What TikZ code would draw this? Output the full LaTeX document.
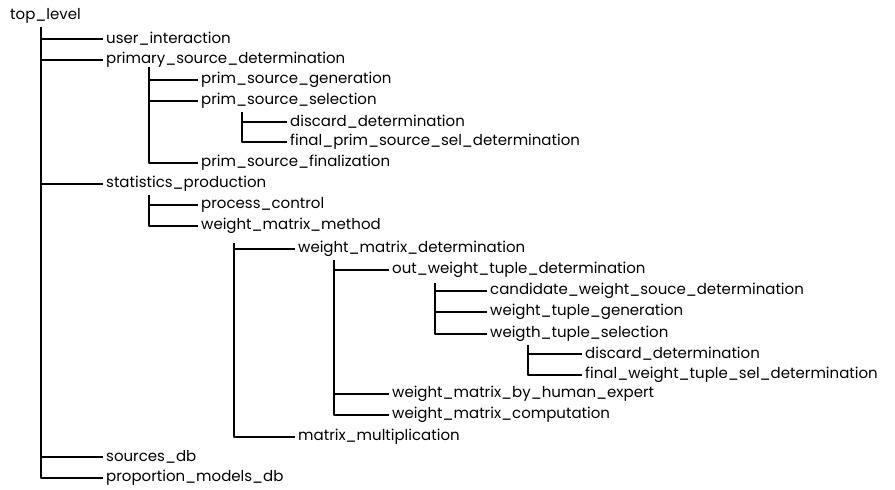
\documentclass[tikz,border=0pt]{standalone}
\usepackage{fontspec}
\setmainfont{Poppins}
\begin{document}
\begin{tikzpicture}[x=1pt,y=-1pt,line join=round,
    lbl/.style={anchor=west,inner xsep=3pt,inner ysep=1pt,font=\fontsize{15}{17}\selectfont},
    tree/.style={line width=1.5pt}]
  \useasboundingbox (0,0) rectangle (895,490);
  % modules
  \node[lbl] (top)   at (7,16)    {top\_level};
  \node[lbl] (ui)    at (103,39)  {user\_interaction};
  \node[lbl] (psd)   at (103,60)  {primary\_source\_determination};
  \node[lbl] (psg)   at (198,80)  {prim\_source\_generation};
  \node[lbl] (pss)   at (198,101) {prim\_source\_selection};
  \node[lbl] (dd1)   at (287,122) {discard\_determination};
  \node[lbl] (fpsd)  at (287,142) {final\_prim\_source\_sel\_determination};
  \node[lbl] (psf)   at (198,163) {prim\_source\_finalization};
  \node[lbl] (stat)  at (103,184) {statistics\_production};
  \node[lbl] (pc)    at (198,205) {process\_control};
  \node[lbl] (wmm)   at (198,226) {weight\_matrix\_method};
  \node[lbl] (wmd)   at (295,249) {weight\_matrix\_determination};
  \node[lbl] (owtd)  at (389,270) {out\_weight\_tuple\_determination};
  \node[lbl] (cwsd)  at (487,291) {candidate\_weight\_souce\_determination};
  \node[lbl] (wtg)   at (487,312) {weight\_tuple\_generation};
  \node[lbl] (wts)   at (487,334) {weigth\_tuple\_selection};
  \node[lbl] (dd2)   at (582,354) {discard\_determination};
  \node[lbl] (fwtsd) at (582,375) {final\_weight\_tuple\_sel\_determination};
  \node[lbl] (wmhe)  at (389,394) {weight\_matrix\_by\_human\_expert};
  \node[lbl] (wmc)   at (389,415) {weight\_matrix\_computation};
  \node[lbl] (mm)    at (295,437) {matrix\_multiplication};
  \node[lbl] (sdb)   at (103,457) {sources\_db};
  \node[lbl] (pmdb)  at (103,478) {proportion\_models\_db};
  %===============================
  % branch tops
  \coordinate (v0) at (41,27);
  \coordinate (v1) at (149,67);
  \coordinate (v2) at (242,112);
  \coordinate (v3) at (149,195);
  \coordinate (v4) at (234,243);
  \coordinate (v5) at (334,260);
  \coordinate (v6) at (435,283);
  \coordinate (v7) at (528,345);
  \foreach \c in {ui,psd,stat,sdb,pmdb} \draw[tree] (v0) |- (\c.west);
  \foreach \c in {psg,pss,psf} \draw[tree] (v1) |- (\c.west);
  \foreach \c in {dd1,fpsd} \draw[tree] (v2) |- (\c.west);
  \foreach \c in {pc,wmm} \draw[tree] (v3) |- (\c.west);
  \foreach \c in {wmd,mm} \draw[tree] (v4) |- (\c.west);
  \foreach \c in {owtd,wmhe,wmc} \draw[tree] (v5) |- (\c.west);
  \foreach \c in {cwsd,wtg,wts} \draw[tree] (v6) |- (\c.west);
  \foreach \c in {dd2,fwtsd} \draw[tree] (v7) |- (\c.west);
\end{tikzpicture}
\end{document}
